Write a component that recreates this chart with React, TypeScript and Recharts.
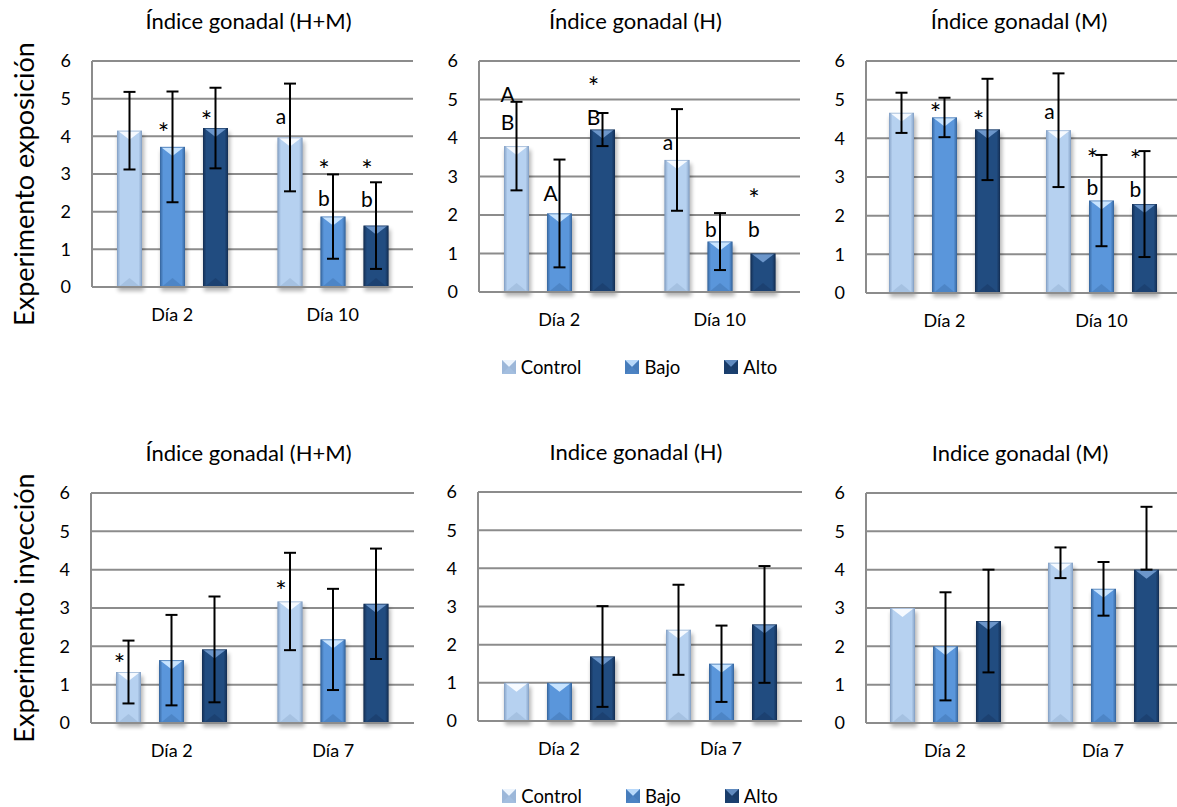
import React from "react";
import { BarChart, Bar, XAxis, YAxis, CartesianGrid, ErrorBar, LabelList } from "recharts";

const FONT = "Lato, 'Open Sans', sans-serif";

const SERIES = [
  { key: "control", name: "Control", color: "#B6D1F0", edge: "#86A2C6", light: "#F6FAFF" },
  { key: "bajo", name: "Bajo", color: "#5A96DB", edge: "#3767A0", light: "#C8E4FF" },
  { key: "alto", name: "Alto", color: "#214C80", edge: "#142F55", light: "#6C96CA" }
];

const Y_TICKS = [0, 1, 2, 3, 4, 5, 6];
const DAYS_EXP = ["Día 2", "Día 10"];
const DAYS_INY = ["Día 2", "Día 7"];

// Experimento exposición - H+M
const EXP_HM_CONTROL = [4.15, 3.97];
const EXP_HM_BAJO = [3.72, 1.87];
const EXP_HM_ALTO = [4.22, 1.63];
const EXP_HM_CONTROL_ERR = [1.03, 1.43];
const EXP_HM_BAJO_ERR = [1.47, 1.12];
const EXP_HM_ALTO_ERR = [1.07, 1.15];

// Experimento exposición - H
const EXP_H_CONTROL = [3.79, 3.43];
const EXP_H_BAJO = [2.04, 1.31];
const EXP_H_ALTO = [4.22, 1.0];
const EXP_H_CONTROL_ERR = [1.15, 1.32];
const EXP_H_BAJO_ERR = [1.4, 0.74];
const EXP_H_ALTO_ERR = [0.43, 0];

// Experimento exposición - M
const EXP_M_CONTROL = [4.66, 4.21];
const EXP_M_BAJO = [4.54, 2.39];
const EXP_M_ALTO = [4.23, 2.3];
const EXP_M_CONTROL_ERR = [0.52, 1.47];
const EXP_M_BAJO_ERR = [0.51, 1.18];
const EXP_M_ALTO_ERR = [1.31, 1.37];

// Experimento inyección - H+M
const INY_HM_CONTROL = [1.33, 3.17];
const INY_HM_BAJO = [1.64, 2.18];
const INY_HM_ALTO = [1.92, 3.11];
const INY_HM_CONTROL_ERR = [0.82, 1.27];
const INY_HM_BAJO_ERR = [1.18, 1.32];
const INY_HM_ALTO_ERR = [1.38, 1.44];

// Experimento inyección - H
const INY_H_CONTROL = [1.0, 2.39];
const INY_H_BAJO = [1.0, 1.5];
const INY_H_ALTO = [1.69, 2.53];
const INY_H_CONTROL_ERR = [0, 1.18];
const INY_H_BAJO_ERR = [0, 1.0];
const INY_H_ALTO_ERR = [1.32, 1.53];

// Experimento inyección - M
const INY_M_CONTROL = [3.0, 4.18];
const INY_M_BAJO = [2.0, 3.5];
const INY_M_ALTO = [2.66, 4.0];
const INY_M_CONTROL_ERR = [0, 0.4];
const INY_M_BAJO_ERR = [1.41, 0.7];
const INY_M_ALTO_ERR: (number | number[])[] = [1.34, [0, 1.64]];

// significance marks: text and the value level where they sit
type Mark = { t: string; at: number };
const EXP_HM_MARKS: Record<string, Mark[][]> = {
  control: [[], [{ t: "a", at: 4.48 }]],
  bajo: [[{ t: "*", at: 4.24 }], [{ t: "*", at: 3.26 }, { t: "b", at: 2.36 }]],
  alto: [[{ t: "*", at: 4.56 }], [{ t: "*", at: 3.26 }, { t: "b", at: 2.33 }]]
};
const EXP_H_MARKS: Record<string, Mark[][]> = {
  control: [[{ t: "A", at: 5.13 }, { t: "B", at: 4.41 }], [{ t: "a", at: 3.82 }]],
  bajo: [[{ t: "A", at: 2.56 }], [{ t: "b", at: 1.62 }]],
  alto: [[{ t: "*", at: 5.46 }, { t: "B", at: 4.54 }], [{ t: "*", at: 2.56 }, { t: "b", at: 1.62 }]]
};
const EXP_M_MARKS: Record<string, Mark[][]> = {
  control: [[], [{ t: "a", at: 4.65 }]],
  bajo: [[{ t: "*", at: 4.8 }], [{ t: "*", at: 3.61 }, { t: "b", at: 2.73 }]],
  alto: [[{ t: "*", at: 4.6 }], [{ t: "*", at: 3.59 }, { t: "b", at: 2.68 }]]
};
const INY_HM_MARKS: Record<string, Mark[][]> = {
  control: [[{ t: "*", at: 1.67 }], [{ t: "*", at: 3.59 }]],
  bajo: [[], []],
  alto: [[], []]
};
const NO_MARKS: Record<string, Mark[][]> = { control: [[], []], bajo: [[], []], alto: [[], []] };

function rows(days: string[], c: number[], b: number[], a: number[], ce: any[], be: any[], ae: any[]) {
  return days.map((day, i) => ({
    day,
    control: c[i],
    bajo: b[i],
    alto: a[i],
    controlErr: ce[i],
    bajoErr: be[i],
    altoErr: ae[i]
  }));
}

const YW = 50;
const MT = 18;
const XH = 45;

function BevelBar(props: any) {
  const { x, y, width, height, sk } = props;
  if (!height || height <= 0) return null;
  const s = SERIES.find((e) => e.key === sk)!;
  const b = Math.min(9, height / 2);
  return (
    <g>
      <rect x={x + 1} y={y + 4} width={width + 1} height={height} fill="#000" opacity={0.3} filter="url(#barShadow)" />
      <rect x={x} y={y} width={width} height={height} fill={`url(#grad-${sk})`} />
      <polygon points={`${x + 1.5},${y + 0.5} ${x + width - 1.5},${y + 0.5} ${x + width / 2},${y + b}`} fill={s.light} />
      <polygon
        points={`${x + 1.5},${y + height} ${x + width - 1.5},${y + height} ${x + width / 2},${y + height - b}`}
        fill={s.edge}
        opacity={0.35}
      />
      <rect x={x + 0.5} y={y + 0.5} width={width - 1} height={height - 1} fill="none" stroke={s.edge} strokeOpacity={0.5} />
    </g>
  );
}

function markLabel(marks: Mark[][]) {
  return (p: any) => {
    const vb = p.viewBox || p;
    const x = p.x ?? vb.x;
    const y = p.y ?? vb.y;
    const w = p.width ?? vb.width;
    const h = p.height ?? vb.height;
    const list = marks[p.index] || [];
    if (!list.length || !p.value) return null;
    const bottom = y + h;
    const per = h / p.value;
    return (
      <g>
        {list.map((m, i) => {
          const cy = bottom - m.at * per;
          const star = m.t === "*";
          const fs = star ? 27 : 21;
          const k = star ? 0.57 : m.t === "a" ? 0.26 : 0.36;
          return (
            <text
              key={i}
              x={x + w / 2 - 9}
              y={cy + k * fs}
              textAnchor="middle"
              fontSize={fs}
              fontFamily={FONT}
              fill="#000"
              stroke="none"
            >
              {m.t}
            </text>
          );
        })}
      </g>
    );
  };
}

type PanelProps = {
  title: string;
  data: any[];
  marks: Record<string, Mark[][]>;
  left: number;
  top: number;
  w: number;
  h: number;
};

function Panel({ title, data, marks, left, top, w, h }: PanelProps) {
  return (
    <div style={{ position: "absolute", left: left - YW, top: top - MT }}>
      <div
        style={{
          position: "absolute",
          left: YW - 4,
          width: w,
          top: MT - 53,
          textAlign: "center",
          fontSize: 22,
          lineHeight: "26px",
          fontFamily: FONT,
          color: "#000",
          whiteSpace: "nowrap"
        }}
      >
        {title}
      </div>
      <BarChart
        width={YW + w}
        height={MT + h + XH}
        data={data}
        margin={{ top: MT, right: 0, left: 0, bottom: 0 }}
        barSize={25}
        barGap={18}
      >
        <defs>
          {SERIES.map((s) => (
            <linearGradient key={s.key} id={`grad-${s.key}`} x1="0" y1="0" x2="1" y2="0">
              <stop offset="0" stopColor={s.edge} />
              <stop offset="0.14" stopColor={s.color} />
              <stop offset="0.86" stopColor={s.color} />
              <stop offset="1" stopColor={s.edge} />
            </linearGradient>
          ))}
          <filter id="barShadow" x="-50%" y="-50%" width="200%" height="200%">
            <feGaussianBlur stdDeviation="2" />
          </filter>
        </defs>
        <CartesianGrid vertical={false} stroke="#8C8C8C" strokeWidth={2} />
        <XAxis
          dataKey="day"
          height={XH}
          tickLine={false}
          tickSize={0}
          tickMargin={21}
          axisLine={{ stroke: "#8C8C8C", strokeWidth: 2 }}
          tick={{ fill: "#000", fontSize: 18, fontFamily: FONT }}
        />
        <YAxis
          width={YW}
          domain={[0, 6]}
          ticks={Y_TICKS}
          interval={0}
          tickLine={false}
          tickSize={0}
          tickMargin={21}
          axisLine={{ stroke: "#8C8C8C", strokeWidth: 2 }}
          tick={{ fill: "#000", fontSize: 18, fontFamily: FONT }}
        />
        {SERIES.map((s) => (
          <Bar
            key={s.key}
            dataKey={s.key}
            name={s.name}
            fill={s.color}
            isAnimationActive={false}
            shape={(p: any) => <BevelBar {...p} sk={s.key} />}
          >
            <ErrorBar
              dataKey={`${s.key}Err`}
              width={6}
              stroke="#000"
              strokeWidth={2}
              direction="y"
              isAnimationActive={false}
            />
            <LabelList dataKey={s.key} content={markLabel(marks[s.key])} />
          </Bar>
        ))}
      </BarChart>
    </div>
  );
}

function LegendIcon({ s }: { s: (typeof SERIES)[number] }) {
  return (
    <svg width={14} height={14} style={{ display: "block" }}>
      <rect x={0} y={0} width={14} height={14} fill={s.color} />
      <polygon points="0,0 14,0 7,7" fill={s.light} opacity={0.85} />
      <polygon points="0,14 14,14 7,7" fill={s.edge} opacity={0.4} />
      <polygon points="0,0 0,14 7,7" fill={s.edge} opacity={0.55} />
      <polygon points="14,0 14,14 7,7" fill={s.edge} opacity={0.55} />
    </svg>
  );
}

function Legend({ left, width, top }: { left: number; width: number; top: number }) {
  return (
    <div
      style={{
        position: "absolute",
        left,
        width,
        top,
        display: "flex",
        justifyContent: "center",
        gap: 44,
        fontFamily: FONT,
        fontSize: 18.5
      }}
    >
      {SERIES.map((s) => (
        <div key={s.key} style={{ display: "flex", alignItems: "center", gap: 5, height: 22 }}>
          <LegendIcon s={s} />
          <span>{s.name}</span>
        </div>
      ))}
    </div>
  );
}

function RowTitle({ text, cx, cy }: { text: string; cx: number; cy: number }) {
  return (
    <div
      style={{
        position: "absolute",
        left: cx,
        top: cy,
        transform: "translate(-50%, -50%) rotate(-90deg)",
        whiteSpace: "nowrap",
        fontFamily: FONT,
        fontSize: 27,
        lineHeight: 1
      }}
    >
      {text}
    </div>
  );
}

export default function App() {
  return (
    <div style={{ position: "absolute", left: 0, top: 0, width: 1177, height: 807, background: "#fff", overflow: "hidden" }}>
      <RowTitle text="Experimento exposición" cx={23} cy={184} />
      <RowTitle text="Experimento inyección" cx={23} cy={608} />

      <Panel
        title="Índice gonadal (H+M)"
        data={rows(DAYS_EXP, EXP_HM_CONTROL, EXP_HM_BAJO, EXP_HM_ALTO, EXP_HM_CONTROL_ERR, EXP_HM_BAJO_ERR, EXP_HM_ALTO_ERR)}
        marks={EXP_HM_MARKS}
        left={92}
        top={61}
        w={321}
        h={226}
      />
      <Panel
        title="Índice gonadal (H)"
        data={rows(DAYS_EXP, EXP_H_CONTROL, EXP_H_BAJO, EXP_H_ALTO, EXP_H_CONTROL_ERR, EXP_H_BAJO_ERR, EXP_H_ALTO_ERR)}
        marks={EXP_H_MARKS}
        left={479}
        top={61}
        w={321}
        h={231}
      />
      <Panel
        title="Índice gonadal (M)"
        data={rows(DAYS_EXP, EXP_M_CONTROL, EXP_M_BAJO, EXP_M_ALTO, EXP_M_CONTROL_ERR, EXP_M_BAJO_ERR, EXP_M_ALTO_ERR)}
        marks={EXP_M_MARKS}
        left={866}
        top={61}
        w={314}
        h={232}
      />
      <Legend left={479} width={321} top={356} />

      <Panel
        title="Índice gonadal (H+M)"
        data={rows(DAYS_INY, INY_HM_CONTROL, INY_HM_BAJO, INY_HM_ALTO, INY_HM_CONTROL_ERR, INY_HM_BAJO_ERR, INY_HM_ALTO_ERR)}
        marks={INY_HM_MARKS}
        left={91}
        top={493}
        w={323}
        h={230}
      />
      <Panel
        title="Indice gonadal (H)"
        data={rows(DAYS_INY, INY_H_CONTROL, INY_H_BAJO, INY_H_ALTO, INY_H_CONTROL_ERR, INY_H_BAJO_ERR, INY_H_ALTO_ERR)}
        marks={NO_MARKS}
        left={478}
        top={492}
        w={324}
        h={229}
      />
      <Panel
        title="Indice gonadal (M)"
        data={rows(DAYS_INY, INY_M_CONTROL, INY_M_BAJO, INY_M_ALTO, INY_M_CONTROL_ERR, INY_M_BAJO_ERR, INY_M_ALTO_ERR)}
        marks={NO_MARKS}
        left={866}
        top={493}
        w={316}
        h={230}
      />
      <Legend left={478} width={324} top={785} />
    </div>
  );
}
